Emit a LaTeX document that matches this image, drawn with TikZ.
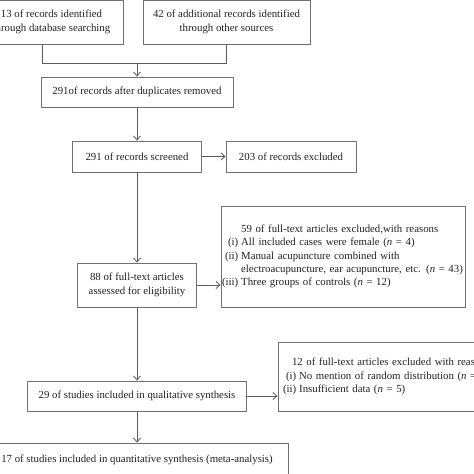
\documentclass[tikz,border=0pt]{standalone}
\usepackage{fontspec}
\setmainfont{Liberation Serif}
\usetikzlibrary{arrows.meta,calc}
\definecolor{boxgray}{HTML}{707070}
\definecolor{linegray}{HTML}{5A5A5A}
\definecolor{textblack}{HTML}{231F20}
\begin{document}
\begin{tikzpicture}[x=1pt,y=-1pt,
  box/.style={draw=boxgray, line width=0.9pt, rectangle, inner sep=0pt, align=center,
    text=textblack, font=\fontsize{10.8}{13.3}\selectfont},
  listbox/.style={box, align=left},
  conn/.style={draw=linegray, line width=0.8pt},
  arr/.style={conn, -{Straight Barb[length=4pt,width=7pt]}}]
\useasboundingbox (0,0) rectangle (474,474);

\node[box, minimum width=143pt, minimum height=44pt] (b1) at (51.5,22)
  {13 of records identified\\through database searching};
\node[box, minimum width=167pt, minimum height=44pt] (b2) at (226.5,22)
  {42 of additional records identified\\through other sources};
\node[box, minimum width=192pt, minimum height=30pt] (b3) at (137,92)
  {291of records after duplicates removed};
\node[box, minimum width=129pt, minimum height=31pt] (b4) at (137,156.5)
  {291 of records screened};
\node[box, minimum width=130pt, minimum height=31pt] (b5) at (291,156.5)
  {203 of records excluded};
\node[box, minimum width=119pt, minimum height=44pt] (b6) at (137,285)
  {88 of full-text articles\\assessed for eligibility};
\node[listbox, minimum height=101pt, text width=242pt, inner xsep=1pt] (b7) at (343,256.5)
  {\begin{tabular}{@{}r@{\hspace{3pt}}l@{}}
    & 59 of full-text articles excluded,with reasons\\
    (i) & All included cases were female (\textit{n} = 4)\\
    (ii) & Manual acupuncture combined with\\
    & electroacupuncture, ear acupuncture, etc. (\textit{n} = 43)\\
    (iii) & Three groups of controls (\textit{n} = 12)
  \end{tabular}};
\node[box, minimum width=219pt, minimum height=30pt] (b8) at (137,396)
  {29 of studies included in qualitative synthesis};
\node[listbox, minimum height=69pt, text width=232pt, inner xsep=5pt] (b9) at (399,376.5)
  {\begin{tabular}{@{}r@{\hspace{3pt}}l@{}}
    \multicolumn{2}{@{\hspace{9pt}}l@{}}{12 of full-text articles excluded with reasons}\\
    (i) & No mention of random distribution (\textit{n} = 7)\\
    (ii) & Insufficient data (\textit{n} = 5)
  \end{tabular}};
\node[box, minimum width=302pt, minimum height=33pt] (b10) at (137,459.5)
  {17 of studies included in quantitative synthesis (meta-analysis)};

\coordinate (j) at (137,63);
\draw[conn] ([xshift=-9.5pt]b1.south) -- ([xshift=-9.5pt]b1.south |- j) -- (b2.south |- j) -- (b2.south);
\draw[arr] (j) -- (b3.north);
\draw[arr] (b3.south) -- (b4.north);
\draw[arr] (b4.east) -- (b5.west);
\draw[arr] (b4.south) -- (b6.north);
\draw[arr] (b6.east) -- (b6.east -| b7.west);
\draw[arr] (b6.south) -- (b8.north);
\draw[arr] (b8.east) -- (b8.east -| b9.west);
\draw[arr] (b8.south) -- (b10.north);
\end{tikzpicture}
\end{document}
